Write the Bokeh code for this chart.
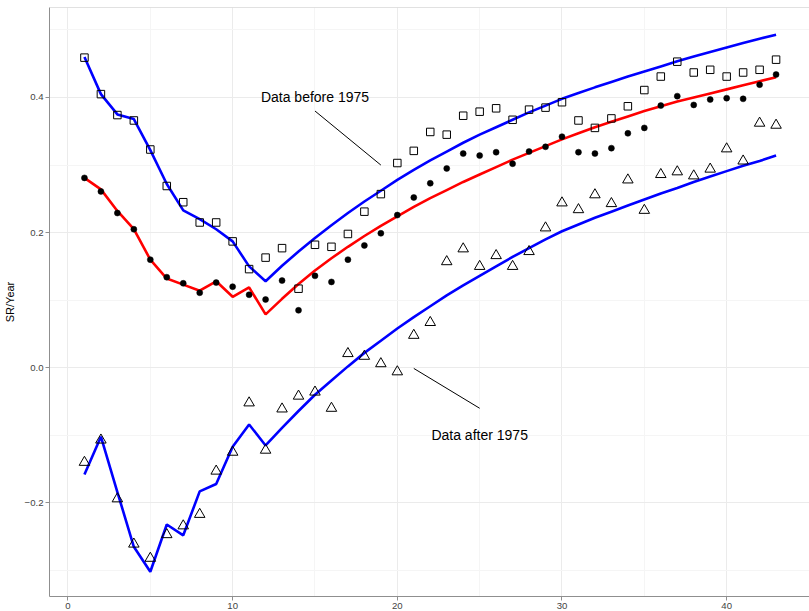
from bokeh.plotting import figure
from bokeh.models import FixedTicker, Range1d, Span
from bokeh.core.properties import value
from bokeh.embed import file_html
from bokeh.resources import INLINE

# ---------------- data ----------------
years = list(range(1, 44))

sr_before = [0.459, 0.405, 0.374, 0.366, 0.323, 0.269, 0.245, 0.215, 0.215, 0.187,
             0.146, 0.163, 0.177, 0.117, 0.182, 0.179, 0.198, 0.231, 0.257, 0.303,
             0.321, 0.349, 0.345, 0.373, 0.379, 0.384, 0.367, 0.382, 0.385, 0.393,
             0.366, 0.355, 0.369, 0.387, 0.411, 0.431, 0.453, 0.437, 0.441, 0.431,
             0.437, 0.441, 0.456]

sr_all = [0.281, 0.261, 0.229, 0.205, 0.160, 0.134, 0.125, 0.111, 0.126, 0.120,
          0.108, 0.101, 0.129, 0.085, 0.136, 0.127, 0.160, 0.181, 0.199, 0.226,
          0.252, 0.273, 0.295, 0.317, 0.314, 0.319, 0.302, 0.320, 0.327, 0.342,
          0.319, 0.317, 0.325, 0.347, 0.355, 0.388, 0.402, 0.389, 0.397, 0.399,
          0.398, 0.419, 0.434]

sr_after = [-0.140, -0.107, -0.194, -0.261, -0.282, -0.247, -0.234, -0.217, -0.153, -0.125,
            -0.052, -0.122, -0.061, -0.042, -0.036, -0.060, 0.021, 0.017, 0.006, -0.006,
            0.048, 0.067, 0.157, 0.176, 0.150, 0.166, 0.150, 0.172, 0.207, 0.244,
            0.234, 0.256, 0.243, 0.278, 0.233, 0.286, 0.290, 0.284, 0.294, 0.324,
            0.306, 0.362, 0.359]

fit_before = [0.460, 0.405, 0.375, 0.368, 0.322, 0.272, 0.233, 0.220, 0.205, 0.187,
              0.150, 0.128, 0.151, 0.172, 0.192, 0.211, 0.229, 0.246, 0.262, 0.278,
              0.293, 0.307, 0.320, 0.333, 0.345, 0.356, 0.367, 0.378, 0.388, 0.398,
              0.4065, 0.415, 0.423, 0.431, 0.4385, 0.446, 0.4535, 0.4605, 0.4675, 0.474,
              0.4805, 0.487, 0.493]

fit_all = [0.281, 0.264, 0.232, 0.205, 0.160, 0.132, 0.123, 0.114, 0.128, 0.105,
           0.119, 0.079, 0.102, 0.124, 0.144, 0.162, 0.179, 0.195, 0.210, 0.224,
           0.238, 0.251, 0.263, 0.275, 0.286, 0.297, 0.308, 0.318, 0.328, 0.338,
           0.347, 0.356, 0.364, 0.372, 0.380, 0.387, 0.394, 0.400, 0.406, 0.412,
           0.418, 0.424, 0.430]

fit_after = [-0.158, -0.102, -0.184, -0.265, -0.302, -0.232, -0.248, -0.183, -0.172, -0.117,
             -0.084, -0.115, -0.089, -0.064, -0.040, -0.019, 0.002, 0.022, 0.040, 0.058,
             0.075, 0.091, 0.107, 0.122, 0.136, 0.150, 0.164, 0.177, 0.190, 0.202,
             0.212, 0.222, 0.231, 0.240, 0.249, 0.258, 0.266, 0.275, 0.283, 0.291,
             0.299, 0.306, 0.314]

ann_text = ["Data before 1975", "Data after 1975"]
ann_x = [15, 25]
ann_y = [0.40, -0.10]
seg_x0 = [15, 21]
seg_y0 = [0.38, -0.001]
seg_x1 = [19, 25]
seg_y1 = [0.30, -0.06]

x_ticks = [0, 10, 20, 30, 40]
x_minor = [-5, 5, 15, 25, 35, 45]
y_ticks = [-0.2, 0.0, 0.2, 0.4]
y_tick_labels = ["\u22120.2", "0.0", "0.2", "0.4"]
y_minor = [-0.3, -0.1, 0.1, 0.3, 0.5]

x_lo, x_hi = -1.122, 45.03
y_lo, y_hi = -0.3386, 0.5332

# ---------------- figure ----------------
p = figure(width=809, height=611,
           x_range=Range1d(x_lo, x_hi), y_range=Range1d(y_lo, y_hi),
           output_backend="svg", toolbar_location=None,
           min_border_left=40, min_border_right=0,
           min_border_top=7, min_border_bottom=0)

p.background_fill_color = "white"
p.border_fill_color = "white"
p.outline_line_color = None

p.xaxis.ticker = FixedTicker(ticks=x_ticks, minor_ticks=x_minor)
p.yaxis.ticker = FixedTicker(ticks=y_ticks, minor_ticks=y_minor)
p.yaxis.major_label_overrides = dict(zip(y_ticks, y_tick_labels))
p.xaxis.major_label_overrides = {t: str(t) for t in x_ticks}

for ax in (p.xaxis, p.yaxis):
    ax.axis_line_color = "#8f8f8f"
    ax.axis_line_width = 1
    ax.major_tick_line_color = "#8f8f8f"
    ax.major_tick_out = 4
    ax.major_tick_in = 0
    ax.minor_tick_line_color = None
    ax.major_label_text_font = "Liberation Sans"
    ax.major_label_text_font_size = "9.6px"
    ax.major_label_text_color = "#444444"
    ax.major_label_standoff = 2

p.yaxis.axis_label = "SR/Year"
p.yaxis.axis_label_text_font = "Liberation Sans"
p.yaxis.axis_label_text_font_size = "11px"
p.yaxis.axis_label_text_font_style = "normal"
p.yaxis.axis_label_text_color = "black"
p.yaxis.axis_label_standoff = 6

for g in (p.xgrid, p.ygrid):
    g.grid_line_color = "#ebebeb"
    g.grid_line_width = 1
    g.minor_grid_line_color = "#f5f5f5"
    g.minor_grid_line_width = 1

p.add_layout(Span(location=y_hi, dimension="width", line_color="#c4c4c4", line_width=1))

# fitted lines
p.line(years, fit_before, line_color="#0000ff", line_width=2.6)
p.line(years, fit_all, line_color="#ff0000", line_width=2.6)
p.line(years, fit_after, line_color="#0000ff", line_width=2.6)

# points
p.scatter(years, sr_before, marker="square", size=7.5, fill_color=None,
          line_color="black", line_width=1)
p.scatter(years, sr_all, marker="circle", size=6, fill_color="black",
          line_color="black", line_width=0.5)
p.scatter(years, sr_after, marker="triangle", size=10.5, fill_color=None,
          line_color="black", line_width=1)

# annotations
p.segment(x0=seg_x0, y0=seg_y0, x1=seg_x1, y1=seg_y1, line_color="black", line_width=1)
p.text(x=ann_x, y=ann_y, text=ann_text, text_font=value("Liberation Sans"),
       text_font_size=value("14px"), text_align="center", text_baseline="middle",
       text_color="black")

open("out.html", "w").write(file_html(p, INLINE))
